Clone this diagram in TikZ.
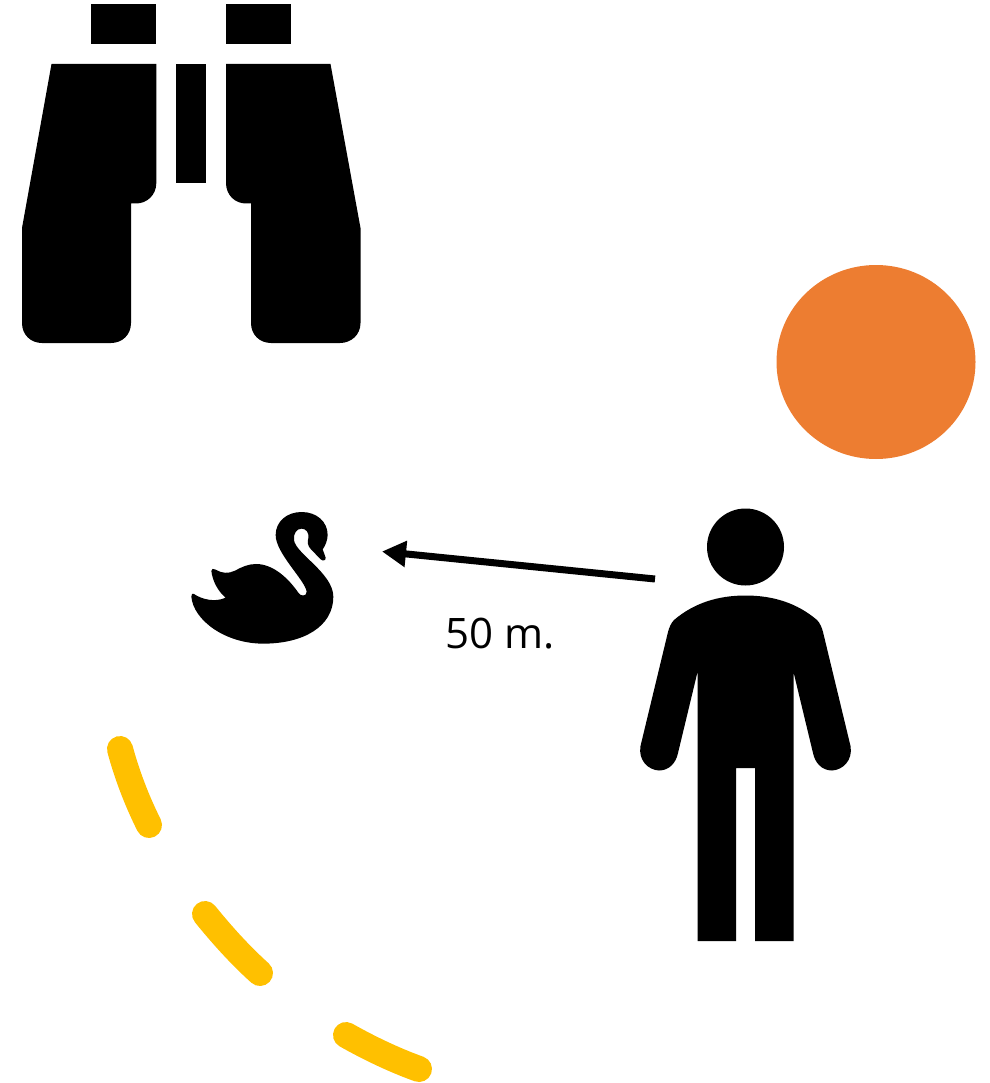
\documentclass[tikz,border=0pt]{standalone}
\usepackage{fontspec}
\setmainfont{Open Sans}
\usetikzlibrary{arrows.meta}
\definecolor{sunorange}{HTML}{ED7D31}
\definecolor{pathyellow}{HTML}{FFC000}
\tikzset{
  glyph/.style={fill=black,draw=none},
  pathdash/.style={draw=pathyellow,line width=26pt,line cap=round},
  distarrow/.style={draw=black,line width=7pt,-{Triangle[length=24pt,width=25pt]}},
  caption/.style={font=\fontsize{42}{48}\selectfont,inner sep=0pt,anchor=base}
}
\begin{document}
\begin{tikzpicture}[x=1pt,y=-1pt]
\useasboundingbox (0,0) rectangle (989,1083);
% binoculars
\fill[glyph] (91.3,4) rectangle (156.3,44);
\fill[glyph] (226,4) rectangle (291,44);
\fill[glyph] (176,64) rectangle (206,183.5);
\fill[glyph] (51.5,64) -- (156.3,64) -- (156.3,183)
  .. controls (156.3,195) and (147,203.5) .. (136,203.5) -- (131,203.5) -- (131,323)
  .. controls (131,335) and (122,343) .. (111,343) -- (42,343)
  .. controls (31,343) and (22,335) .. (22,323) -- (22,228) -- cycle;
\fill[glyph] (330.5,64) -- (226,64) -- (226,183)
  .. controls (226,195) and (235,203.5) .. (246,203.5) -- (251,203.5) -- (251,323)
  .. controls (251,335) and (260,343) .. (271,343) -- (340,343)
  .. controls (351,343) and (360.5,335) .. (360.5,323) -- (360.5,228) -- cycle;
% sun
\fill[sunorange] (876,362) ellipse [x radius=99.5,y radius=97];
% swan
\begin{scope}[shift={(170,490)},x=0.3333pt,y=-0.3333pt]
\fill[glyph] (72,312)
  .. controls (95,328) and (135,338) .. (167,323)
  .. controls (145,305) and (128,275) .. (124,243)
  .. controls (124,236) and (130,234) .. (137,239)
  .. controls (155,250) and (175,252) .. (195,242)
  .. controls (215,231) and (235,222) .. (258,222)
  .. controls (310,222) and (355,265) .. (385,308)
  .. controls (392,320) and (410,320) .. (410,305)
  .. controls (405,270) and (317,190) .. (317,135)
  .. controls (317,95) and (350,66) .. (395,66)
  .. controls (440,66) and (473,95) .. (473,135)
  .. controls (473,150) and (465,170) .. (458,178)
  .. controls (460,188) and (466,195) .. (467,203)
  .. controls (468,212) and (458,214) .. (452,208)
  -- (423,178)
  .. controls (412,167) and (412,155) .. (415,145)
  .. controls (418,128) and (408,116) .. (395,116)
  .. controls (380,116) and (370,130) .. (372,150)
  .. controls (376,190) and (490,250) .. (490,320)
  .. controls (490,410) and (400,461) .. (280,461)
  .. controls (165,461) and (70,390) .. (64,320)
  .. controls (63,312) and (68,309) .. (72,312) -- cycle;
\end{scope}
% person
\fill[glyph] (745.5,547) circle [radius=38.5];
\fill[glyph] (745.5,595.5)
  .. controls (773,595.5) and (797,603) .. (817,620)
  .. controls (820,623) and (822,628) .. (823,632)
  -- (850.5,746)
  .. controls (853,760) and (843,770) .. (832,770.5)
  .. controls (822,770.5) and (815,763) .. (813,753)
  -- (793.5,672) -- (793.5,941) -- (755,941) -- (755,768) -- (736,768) -- (736,941) -- (697.5,941) -- (697.5,672)
  -- (678,753)
  .. controls (676,763) and (669,770.5) .. (659,770.5)
  .. controls (648,770) and (638,760) .. (640.5,746)
  -- (668,632)
  .. controls (669,628) and (671,623) .. (674,620)
  .. controls (694,603) and (718,595.5) .. (745.5,595.5) -- cycle;
% arrow and label
\coordinate (arrowstart) at (655,579);
\coordinate (arrowend) at (382,551.5);
\draw[distarrow] (arrowstart) -- (arrowend);
\node[caption] (dist) at (500.5,648) {50 m.};
% yellow path
\coordinate (a1) at (120,749); \coordinate (a2) at (149,825);
\coordinate (b1) at (205,914); \coordinate (b2) at (260,973);
\coordinate (c1) at (346,1035); \coordinate (c2) at (419,1069);
\draw[pathdash] (a1) .. controls (127,775) and (137,801) .. (a2);
\draw[pathdash] (b1) .. controls (222,935) and (240,955) .. (b2);
\draw[pathdash] (c1) .. controls (369,1048) and (394,1060) .. (c2);
\end{tikzpicture}
\end{document}
